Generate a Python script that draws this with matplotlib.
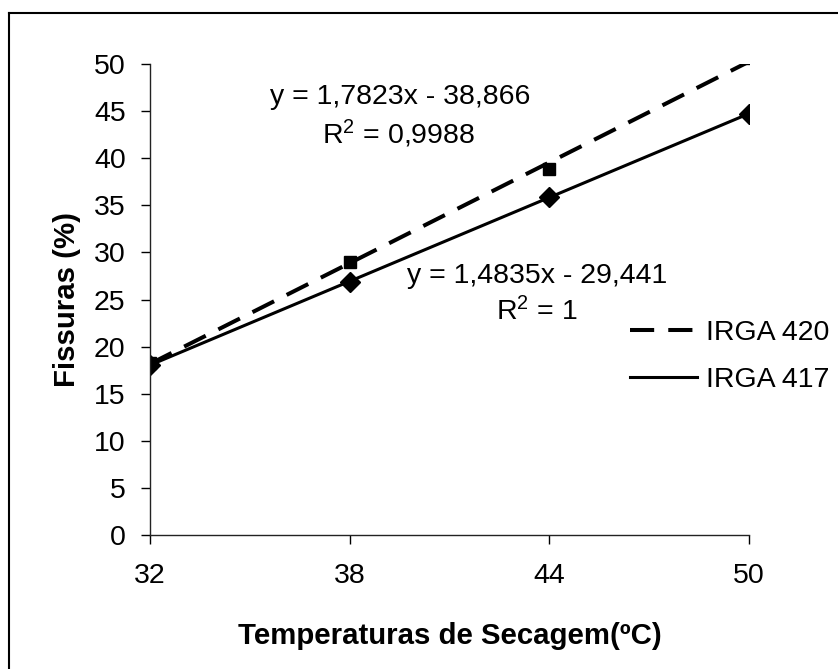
import matplotlib
matplotlib.use('Agg')
import numpy as np
import matplotlib.pyplot as plt
from matplotlib.lines import Line2D

plt.rcParams['font.family'] = ['Liberation Sans', 'DejaVu Sans']
plt.rcParams['mathtext.fontset'] = 'custom'
plt.rcParams['mathtext.rm'] = 'Liberation Sans'
plt.rcParams['mathtext.it'] = 'Liberation Sans'

# dados
temperaturas = [32, 38, 44, 50]
irga420 = [18.3, 29.0, 38.85, 50.6]
irga417 = [18.0, 26.9, 35.9, 44.7]
# linhas de tendencia (coef. angular, intercepto)
tend420 = (1.7823, -38.866)
tend417 = (1.4835, -29.441)
eq420 = ['y = 1,7823x - 38,866', 'R$^2$ = 0,9988']
eq417 = ['y = 1,4835x - 29,441', 'R$^2$ = 1']
y_ticks = [0, 5, 10, 15, 20, 25, 30, 35, 40, 45, 50]

fs = 20.5
tracejado = (0, (6, 3.5))

fig = plt.figure(figsize=(8.38, 6.69), dpi=100)
ax = fig.add_axes([150 / 838, 1 - 535 / 669, (749 - 150) / 838, (535 - 64) / 669])

x = np.array(temperaturas)
ax.plot(x, tend420[0] * x + tend420[1], color='black', lw=2.9, ls=tracejado)
ax.plot(x, tend417[0] * x + tend417[1], color='black', lw=2.2, ls='-')
ax.plot(temperaturas, irga420, ls='none', marker='s', ms=8, color='black')
ax.plot(temperaturas, irga417, ls='none', marker='D', ms=10, color='black')

ax.set_xlim(32, 50)
ax.set_ylim(0, 50)
ax.set_xticks(temperaturas)
ax.set_yticks(y_ticks)
ax.spines['top'].set_visible(False)
ax.spines['right'].set_visible(False)
for s in ['left', 'bottom']:
    ax.spines[s].set_linewidth(1.0)
    ax.spines[s].set_color('#222222')
ax.tick_params(axis='y', direction='out', length=6.5, width=1.0, pad=11, labelsize=fs)
ax.tick_params(axis='x', direction='out', length=6.5, width=1.0, pad=14, labelsize=fs)
for sp in ax.spines.values():
    sp.set_clip_on(False)

ax.set_xlabel('Temperaturas de Secagem(ºC)', fontsize=21.2, fontweight='bold')
ax.set_ylabel('Fissuras (%)', fontsize=21.2, fontweight='bold')
ax.xaxis.set_label_coords(0.5, -(622 - 535) / 471)
ax.yaxis.set_label_coords(-(150 - 81) / 599, 0.5)

# equacoes
fig.text(400 / 838, 1 - 97 / 669, eq420[0], fontsize=fs, ha='center', va='center')
fig.text(399 / 838, 1 - 134 / 669, eq420[1], fontsize=fs, ha='center', va='center')
fig.text(537 / 838, 1 - 276 / 669, eq417[0], fontsize=fs, ha='center', va='center')
fig.text(537 / 838, 1 - 312 / 669, eq417[1], fontsize=fs, ha='center', va='center')

handles = [Line2D([], [], color='black', lw=2.9, ls=tracejado),
           Line2D([], [], color='black', lw=2.2, ls='-')]
fig.legend(handles, ['IRGA 420', 'IRGA 417'], loc='upper left',
           bbox_to_anchor=(630 / 838, 1 - 320 / 669), frameon=False,
           fontsize=fs, handlelength=2.35, handletextpad=0.33,
           labelspacing=0.75, borderpad=0, borderaxespad=0)

# borda do grafico (cortada a direita e embaixo)
fig.add_artist(Line2D([9 / 838, 9 / 838], [0, 1 - 13 / 669], transform=fig.transFigure, color='black', lw=1.5))
fig.add_artist(Line2D([9 / 838, 1], [1 - 13 / 669, 1 - 13 / 669], transform=fig.transFigure, color='black', lw=1.5))

fig.savefig('out.png', dpi=100)
